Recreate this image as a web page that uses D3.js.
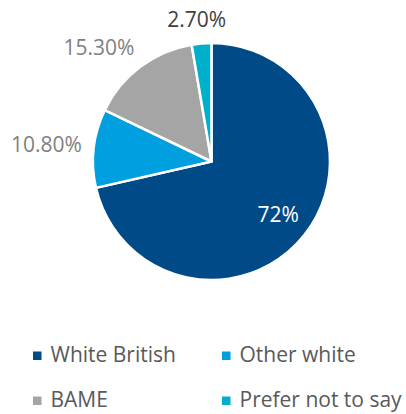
<!DOCTYPE html>
<html><head><meta charset="utf-8">
<script src="https://cdn.jsdelivr.net/npm/d3@7"></script>
<style>body{margin:0;background:#fff}svg{display:block}</style>
</head><body>
<svg id="c" width="406" height="414"></svg>
<script>
const categories = ["White British", "Other white", "BAME", "Prefer not to say"];
const values = [72, 10.8, 15.3, 2.7];
const labels = ["72%", "10.80%", "15.30%", "2.70%"];
const colors = ["#004b87", "#009fdf", "#a5a5a5", "#00b0ca"];
const labelColors = ["#ffffff", "#7f7f7f", "#7f7f7f", "#404040"];

const svg = d3.select("#c");
const font = "'Open Sans', sans-serif";
const fs = 21;
const cx = 211.5, cy = 161.5, r = 118.5;
const pie = d3.pie().sort(null).value(d => d)(values);
const arc = d3.arc().innerRadius(0).outerRadius(r);
const g = svg.append("g").attr("transform", `translate(${cx},${cy})`);
g.selectAll("path").data(pie).join("path")
  .attr("d", arc).attr("fill", (d, i) => colors[i])
  .attr("stroke", "#fff").attr("stroke-width", 2.5).attr("stroke-linejoin", "round");

const inner = d3.arc().innerRadius(r * 0.72).outerRadius(r * 0.72);
const outR = r + 12;
const labs = g.selectAll("text").data(pie).join("text")
  .attr("font-family", font).attr("font-size", fs)
  .attr("fill", (d, i) => labelColors[i])
  .attr("text-anchor", "middle")
  .text((d, i) => labels[i]);
labs.each(function (d, i) {
  const t = d3.select(this);
  if (i === 0) {
    const p = inner.centroid(d);
    t.attr("x", p[0]).attr("y", p[1] + fs * 0.35);
    return;
  }
  const a = (d.startAngle + d.endAngle) / 2;
  const s = Math.sin(a), c = Math.cos(a);
  const px = s * outR, py = -c * outR;
  const w = this.getComputedTextLength();
  const f = Math.max(-1, Math.min(1, s * 1.6));
  const x = px + f * w / 2;
  const y = py - c * 11 + 6.5;
  t.attr("x", x).attr("y", y);
});

const leg = svg.append("g");
const cols = [33, 222], rows = [362, 407];
categories.forEach((c, i) => {
  const x = cols[i % 2], y = rows[Math.floor(i / 2)];
  leg.append("rect").attr("x", x).attr("y", y - 10.5).attr("width", 8.5).attr("height", 8.5).attr("fill", colors[i]);
  leg.append("text").attr("x", x + 17.5).attr("y", y).attr("font-family", font).attr("font-size", fs)
    .attr("fill", "#595959").text(c);
});
</script>
</body></html>
